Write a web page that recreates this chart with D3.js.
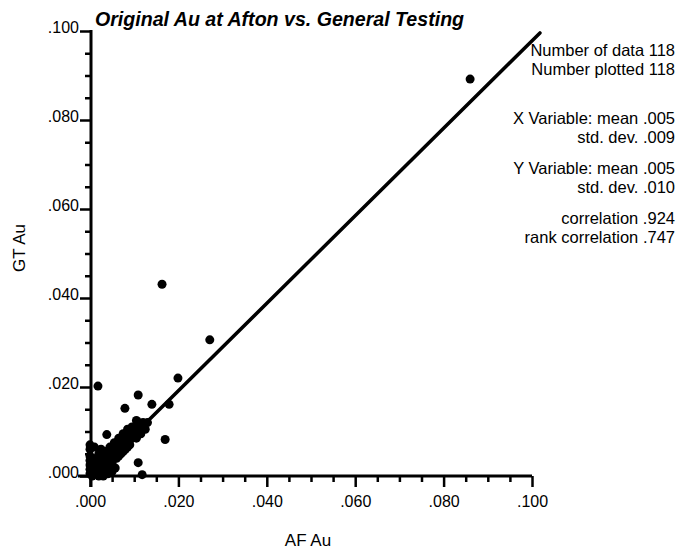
<!DOCTYPE html>
<html>
<head>
<meta charset="utf-8">
<script src="https://cdn.jsdelivr.net/npm/d3@7/dist/d3.min.js"></script>
<style>
  html, body { margin: 0; padding: 0; background: #fff; }
  svg { display: block; font-family: "Liberation Sans", Arial, Helvetica, sans-serif; }
</style>
</head>
<body>
<svg id="chart" width="679" height="553"></svg>
<script>
// Au assays: AF (x) versus GT (y), one entry per sample
const afAu = [
  0.086, 0.0163, 0.0271, 0.0199, 0.0018, 0.0109, 0.0079, 0.0140, 0.0179, 0.0170,
  0.0109, 0.0118, 0.0038, 0.0057, 0, 0, 0, 0, 0, 0,
  0, 0.0005, 0.0005, 0.0005, 0.0005, 0.0005, 0.001, 0.001, 0.0015, 0.0015,
  0.0015, 0.0015, 0.002, 0.0025, 0.002, 0.003, 0.0015, 0.002, 0.002, 0.002,
  0.002, 0.0025, 0.0025, 0.003, 0.003, 0.003, 0.003, 0.0035, 0.0035, 0.004,
  0.004, 0.004, 0.004, 0.0045, 0.005, 0.005, 0.005, 0.005, 0.005, 0.0055,
  0.006, 0.006, 0.006, 0.006, 0.0065, 0.007, 0.007, 0.007, 0.007, 0.0075,
  0.008, 0.008, 0.008, 0.008, 0.0085, 0.009, 0.009, 0.009, 0.009, 0.0095,
  0.010, 0.010, 0.010, 0.011, 0.011, 0.011, 0.012, 0.012, 0.013, 0.002,
  0.003, 0.004, 0.005, 0.003, 0.001, 0.0005, 0.0055, 0.001, 0.0065, 0.0075,
  0.0085, 0.0095, 0.002, 0.0105, 0.0115, 0.0105, 0.0125, 0.0045, 0.0035, 0.0065,
  0.0075, 0.0085, 0.004, 0.0035, 0.005, 0.006, 0.0025, 0.0015
];
const gtAu = [
  0.0892, 0.0431, 0.0306, 0.0220, 0.0202, 0.0182, 0.0152, 0.0161, 0.0161, 0.0082,
  0.0030, 0.0003, 0.0093, 0.0018, 0.0005, 0.0015, 0.0025, 0.0035, 0.0045, 0.006,
  0.007, 0, 0.001, 0.002, 0.003, 0.004, 0.0005, 0.0065, 0.001, 0.002,
  0.003, 0.004, 0.005, 0.006, 0.004, 0.005, 0.0015, 0.0015, 0.0025, 0.003,
  0.001, 0.002, 0.003, 0.002, 0.003, 0.004, 0.001, 0.003, 0.0035, 0.003,
  0.004, 0.005, 0.002, 0.004, 0.004, 0.005, 0.003, 0.006, 0.002, 0.005,
  0.005, 0.006, 0.007, 0.004, 0.006, 0.006, 0.007, 0.008, 0.005, 0.007,
  0.007, 0.008, 0.009, 0.006, 0.008, 0.008, 0.009, 0.010, 0.007, 0.009,
  0.009, 0.010, 0.011, 0.010, 0.011, 0.012, 0.011, 0.012, 0.012, 0,
  0.0005, 0.0005, 0.001, 0, 0.0015, 0.0005, 0.0075, 0.001, 0.0085, 0.0095,
  0.0105, 0.011, 0.002, 0.0125, 0.0095, 0.0085, 0.0105, 0.0065, 0.0055, 0.0045,
  0.0055, 0.0065, 0.0035, 0.004, 0.0045, 0.0055, 0.0035, 0.0025
];

// Fitted line, GT = intercept + slope * AF, drawn across this AF range
const fitIntercept = -0.0005;
const fitSlope = 0.983;
const fitRange = [0.0005, 0.1018];

// Axis ticks
const majorTicks = [0, 0.02, 0.04, 0.06, 0.08, 0.1];
const minorTicks = [0.005, 0.01, 0.015, 0.025, 0.03, 0.035, 0.045, 0.05, 0.055,
                    0.065, 0.07, 0.075, 0.085, 0.09, 0.095];
const tickLabels = [".000", ".020", ".040", ".060", ".080", ".100"];

// Summary statistics listed beside the plot
const statLabels = ["Number of data", "Number plotted", "X Variable: mean", "std. dev.",
                    "Y Variable: mean", "std. dev.", "correlation", "rank correlation"];
const statValues = ["118", "118", ".005", ".009", ".005", ".010", ".924", ".747"];
const statBaselines = [56, 75, 124, 142.5, 174, 192.5, 224, 242.5];

const titleText = "Original Au at Afton vs. General Testing";
const xTitle = "AF Au";
const yTitle = "GT Au";

const svg = d3.select("#chart");

const x = d3.scaleLinear().domain([0, 0.1]).range([90, 532]);
const y = d3.scaleLinear().domain([0, 0.1]).range([476, 31]);
const fmt = d => tickLabels[majorTicks.indexOf(d)];

// Axis lines, drawn a little past the origin like a plotter frame
svg.append("line")
  .attr("x1", x(0) - 12).attr("x2", x(0.1))
  .attr("y1", y(0)).attr("y2", y(0))
  .attr("stroke", "#000").attr("stroke-width", 3);
svg.append("line")
  .attr("x1", x(0) + 1).attr("x2", x(0) + 1)
  .attr("y1", y(0) + 11).attr("y2", y(0.1) - 1)
  .attr("stroke", "#000").attr("stroke-width", 3);

// X axis: major and minor ticks
const xMajor = svg.append("g").attr("transform", `translate(0,${y(0)})`)
  .call(d3.axisBottom(x).tickValues(majorTicks).tickSize(11).tickSizeOuter(0).tickFormat(fmt));
xMajor.select(".domain").remove();
xMajor.selectAll(".tick line").attr("stroke-width", 2.5);
xMajor.selectAll(".tick text")
  .attr("y", 31).attr("dy", 0)
  .attr("font-size", 16).attr("fill", "#000")
  .style("font-family", "'Liberation Sans', Arial, sans-serif");

const xMinor = svg.append("g").attr("transform", `translate(0,${y(0)})`)
  .call(d3.axisBottom(x).tickValues(minorTicks).tickSize(6).tickSizeOuter(0).tickFormat(""));
xMinor.select(".domain").remove();
xMinor.selectAll(".tick line").attr("stroke-width", 2.5);

// Y axis: major and minor ticks, labels sitting on the tick
const yMajor = svg.append("g").attr("transform", `translate(${x(0) + 1},0)`)
  .call(d3.axisLeft(y).tickValues(majorTicks).tickSize(11).tickSizeOuter(0).tickFormat(fmt));
yMajor.select(".domain").remove();
yMajor.selectAll(".tick line").attr("stroke-width", 2.5);
yMajor.selectAll(".tick text")
  .attr("x", -12).attr("y", 1).attr("dy", 0)
  .attr("font-size", 16).attr("fill", "#000")
  .style("font-family", "'Liberation Sans', Arial, sans-serif");

const yMinor = svg.append("g").attr("transform", `translate(${x(0) + 1},0)`)
  .call(d3.axisLeft(y).tickValues(minorTicks).tickSize(6).tickSizeOuter(0).tickFormat(""));
yMinor.select(".domain").remove();
yMinor.selectAll(".tick line").attr("stroke-width", 2.5);

// Fitted line
svg.append("line")
  .attr("x1", x(fitRange[0])).attr("y1", y(fitIntercept + fitSlope * fitRange[0]))
  .attr("x2", x(fitRange[1])).attr("y2", y(fitIntercept + fitSlope * fitRange[1]))
  .attr("stroke", "#000").attr("stroke-width", 3.5).attr("stroke-linecap", "round");

// Sample points
svg.append("g").selectAll("circle")
  .data(d3.range(afAu.length))
  .join("circle")
  .attr("cx", i => x(afAu[i]))
  .attr("cy", i => y(gtAu[i]))
  .attr("r", 4.5)
  .attr("fill", "#000");

// Title
svg.append("text")
  .attr("x", 95).attr("y", 26)
  .attr("font-size", 19.6).attr("font-weight", "bold").attr("font-style", "italic")
  .text(titleText);

// Axis titles
svg.append("text")
  .attr("x", 308).attr("y", 546)
  .attr("text-anchor", "middle").attr("font-size", 17)
  .text(xTitle);
svg.append("text")
  .attr("transform", "translate(25,248) rotate(-90)")
  .attr("text-anchor", "middle").attr("font-size", 17)
  .text(yTitle);

// Statistics block: each line right-aligned against the page edge
svg.append("g").attr("font-size", 16.5)
  .selectAll("text")
  .data(statLabels)
  .join("text")
  .attr("x", 675)
  .attr("y", (d, i) => statBaselines[i])
  .attr("text-anchor", "end")
  .text((d, i) => `${d} ${statValues[i]}`);
</script>
</body>
</html>
